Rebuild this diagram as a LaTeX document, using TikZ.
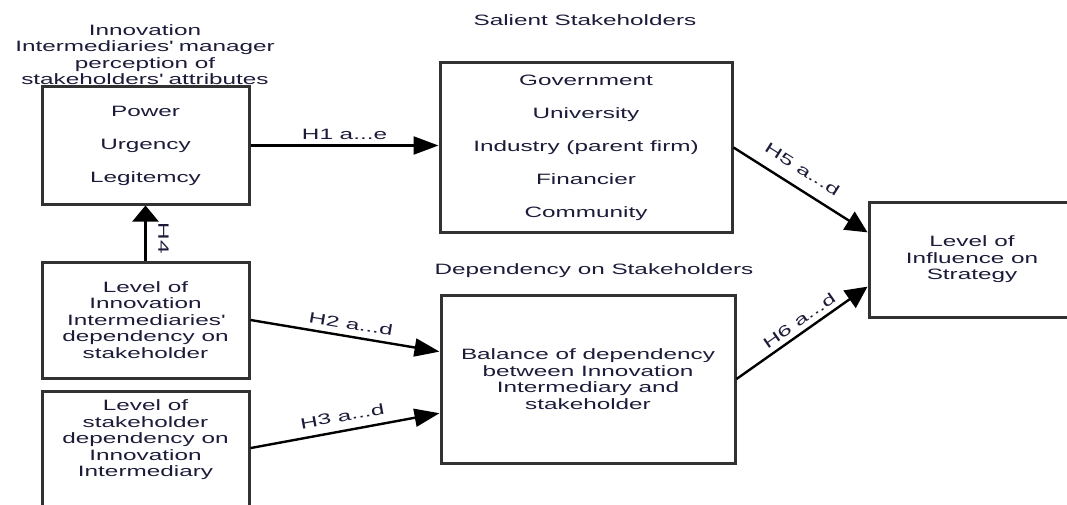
\documentclass[tikz,border=0pt]{standalone}
\usepackage{fontspec}
\setmainfont{Liberation Sans}[FakeStretch=1.62]
\usetikzlibrary{arrows.meta,calc}

\definecolor{ink}{RGB}{28,28,58}
\definecolor{frame}{RGB}{50,50,50}

% text sizes: running text and the spaced lists of items
\newcommand\dgtext{\fontsize{15}{16.5}\selectfont}
\newcommand\dglist{\fontsize{15}{33}\selectfont}
\newcommand\apos{\textquotesingle}

\begin{document}
\begin{tikzpicture}[x=1pt,y=-1pt,
  box/.style={draw=frame, line width=3pt, fill=white, inner sep=0pt,
              text=ink, align=center, font=\dgtext},
  listbox/.style={box, font=\dglist},
  txt/.style={text=ink, align=center, inner sep=0pt, font=\dgtext},
  hyp/.style={text=ink, font=\dgtext, inner sep=2pt},
  flow/.style={draw=black, line width=2.4pt},
  hhead/.style={-{Triangle[length=25pt,width=18pt]}},
  vhead/.style={-{Triangle[length=16pt,width=26pt]}},
  dhead/.style={-{Triangle[length=22pt,width=21pt]}}
]
\useasboundingbox (0,0) rectangle (1067,505);

% group titles
\node[txt] (ttlA) at (145,54.5) {Innovation\\Intermediaries\apos{} manager\\perception of\\stakeholders\apos{} attributes};
\node[txt] (ttlB) at (585,20) {Salient Stakeholders};
\node[txt] (ttlF) at (594,271) {Dependency on Stakeholders};

% boxes
\node[listbox, minimum width=207pt, minimum height=117pt] (A) at (145.5,145.5)
  {Power\\Urgency\\Legitemcy};
\node[listbox, minimum width=292pt, minimum height=169pt] (B) at (586,147.5)
  {Government\\University\\Industry (parent firm)\\Financier\\Community};
\node[box, minimum width=206pt, minimum height=115pt] (C) at (972,259.5)
  {Level of\\Influence on\\Strategy};
\node[box, minimum width=207pt, minimum height=116pt] (D) at (145.5,320)
  {Level of\\Innovation\\Intermediaries\apos\\dependency on\\stakeholder};
\node[box, minimum width=207pt, minimum height=119pt] (E) at (145.5,450.5) {};
\node[txt] (Et) at (145.5,440)
  {Level of\\stakeholder\\dependency on\\Innovation\\Intermediary};
\node[box, minimum width=294pt, minimum height=168pt] (F) at (588,379)
  {Balance of dependency\\between Innovation\\Intermediary and\\stakeholder};

% hypotheses
\draw[flow, hhead] (A.east) -- (A.east -| B.west)
  node[hyp, midway, above=3pt] {H1 a...e};
\draw[flow, vhead] (D.north) -- (A.south);
\node[hyp, rotate=-90] (h4) at ($(D.north)!0.5!(A.south)+(18,5)$) {H4};
\draw[flow, hhead] (D.east) -- ($(F.north west)!0.34!(F.south west)$)
  node[hyp, pos=0.52, sloped, above=4pt] {H2 a...d};
\draw[flow, hhead] ($(E.north east)!0.48!(E.south east)$) -- ($(F.north west)!0.70!(F.south west)$)
  node[hyp, pos=0.5, sloped, above=6pt] {H3 a...d};
\draw[flow, dhead] (B.east) -- ($(C.north west)!0.27!(C.south west)$)
  node[hyp, pos=0.44, sloped, above=10pt] {H5 a...d};
\draw[flow, dhead] (F.east) -- ($(C.north west)!0.73!(C.south west)$)
  node[hyp, pos=0.53, sloped, above=3pt] {H6 a...d};
\end{tikzpicture}
\end{document}
